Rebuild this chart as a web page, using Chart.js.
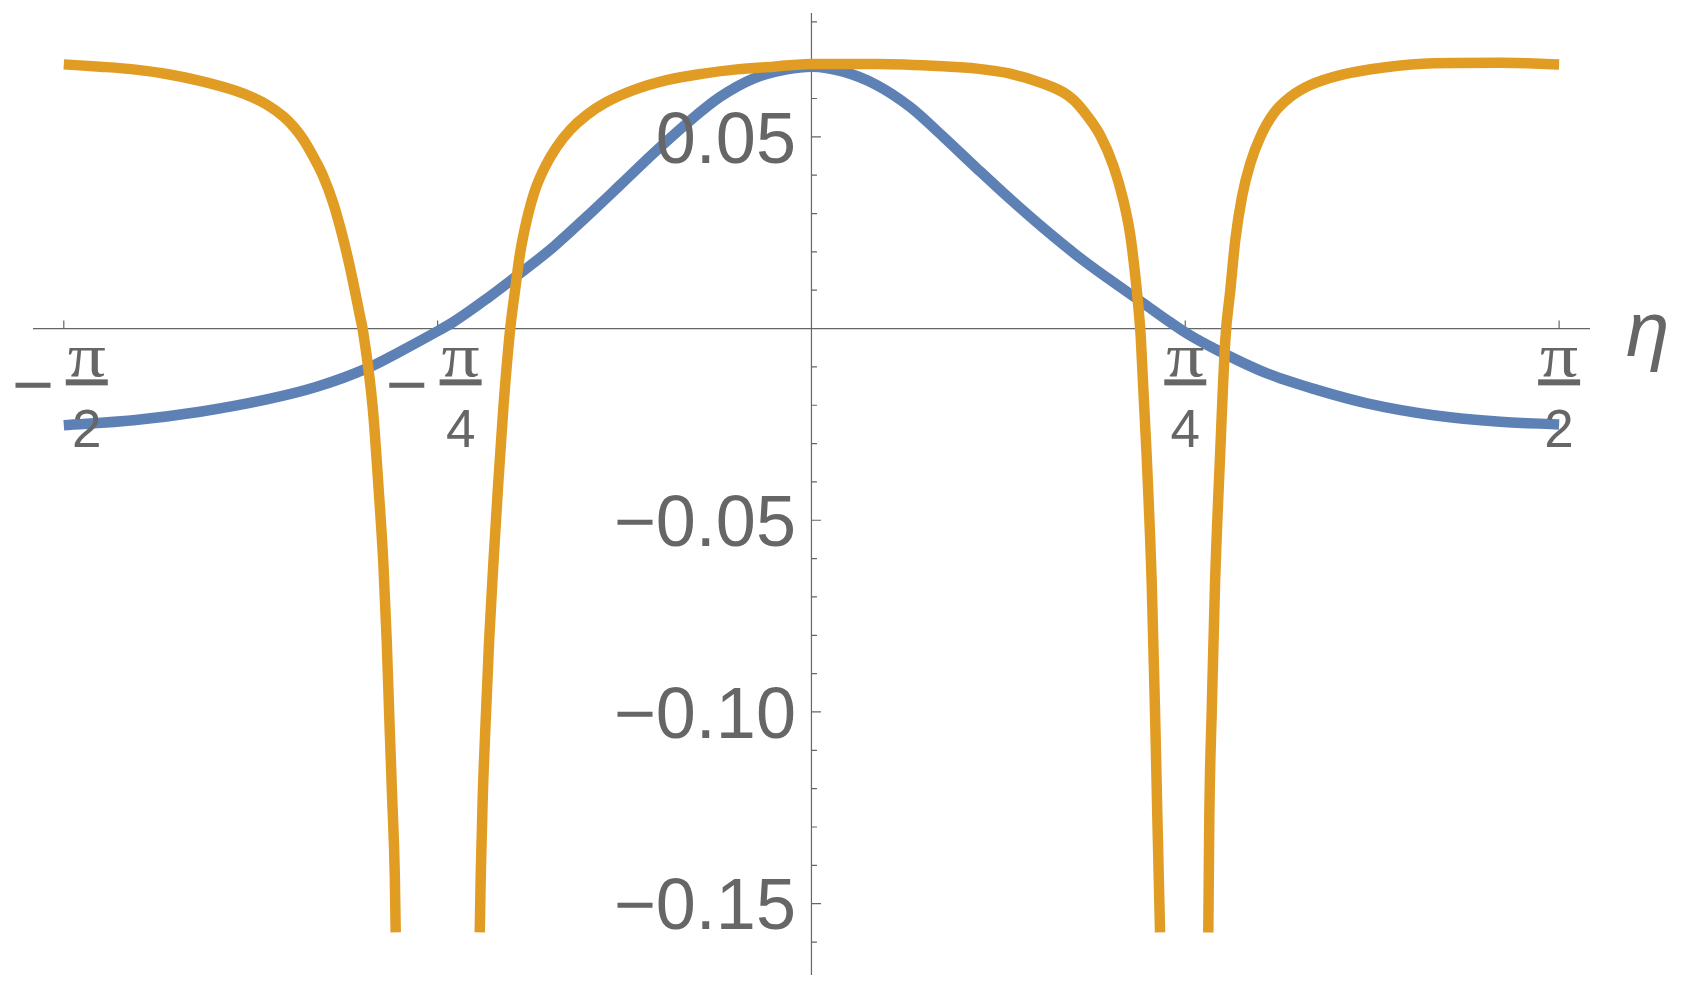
<!DOCTYPE html>
<html>
<head>
<meta charset="utf-8">
<script src="https://cdn.jsdelivr.net/npm/chart.js@4.4.1/dist/chart.umd.min.js"></script>
<style>
  html, body { margin: 0; padding: 0; background: #fff; }
  canvas { display: block; }
</style>
</head>
<body>
<canvas id="plot" width="1687" height="993"></canvas>
<script>
// blue curve
const blueEta = [-1.5708, -1.4246, -1.2845, -1.1443, -1.0393, -0.9342, -0.8643, -0.7943, -0.7523, -0.6821,
  -0.6122, -0.5422, -0.4721, -0.4021, -0.3321, -0.2620, -0.1920, -0.1221, -0.0519, 0.0,
  0.0670, 0.1372, 0.2071, 0.2771, 0.3473, 0.4172, 0.4872, 0.5573, 0.6273, 0.6973,
  0.7471, 0.7891, 0.8521, 0.9571, 1.0622, 1.1672, 1.3074, 1.4473, 1.5708];
const blueVal = [-0.0252, -0.0239, -0.0217, -0.0185, -0.0152, -0.0104, -0.0060, -0.0013, 0.0017, 0.0078,
  0.0144, 0.0213, 0.0292, 0.0374, 0.0457, 0.0535, 0.0604, 0.0652, 0.0676, 0.0683,
  0.0670, 0.0635, 0.0578, 0.0500, 0.0418, 0.0338, 0.0262, 0.0191, 0.0127, 0.0066,
  0.0022, -0.0013, -0.0056, -0.0117, -0.0160, -0.0195, -0.0226, -0.0243, -0.0250];

// orange curve; null where it drops out of the plot range
const orangeEta = [-1.5708, -1.4945, -1.4246, -1.3544, -1.2845, -1.2145, -1.1725, -1.1443, -1.1094, -1.0884,
  -1.0674, -1.0464, -1.0254, -1.0044, -0.9903, -0.9763, -0.9624, -0.9483, -0.9425, -0.9217,
  -0.9098, -0.8994, -0.8923, -0.8868, -0.8810, -0.8754, -0.8735,
  -0.7850,
  -0.6969, -0.6948, -0.6906, -0.6843, -0.6773, -0.6683, -0.6584, -0.6473, -0.6332, -0.6227,
  -0.6122, -0.5981, -0.5807, -0.5597, -0.5351, -0.5071, -0.4721, -0.4300, -0.3742, -0.3040,
  -0.2271, -0.1569, -0.0800, 0.0, 0.1372, 0.2771, 0.3473, 0.4172, 0.4872, 0.5292,
  0.5500, 0.5712, 0.6063, 0.6342, 0.6552, 0.6693, 0.6798, 0.6868, 0.6918, 0.7044,
  0.7149, 0.7218, 0.7267, 0.7324,
  0.7830,
  0.8338, 0.8359, 0.8410, 0.8479, 0.8584, 0.8695, 0.8800, 0.8905, 0.9046, 0.9221,
  0.9431, 0.9712, 1.0061, 1.0481, 1.1111, 1.2023, 1.3074, 1.4473, 1.5708];
const orangeVal = [0.0689, 0.0683, 0.0676, 0.0664, 0.0646, 0.0622, 0.0602, 0.0584, 0.0553, 0.0527,
  0.0493, 0.0448, 0.0396, 0.0326, 0.0265, 0.0196, 0.0118, 0.0031, -0.0004, -0.0207,
  -0.0410, -0.0613, -0.0816, -0.1019, -0.1221, -0.1424, -0.1575,
  null,
  -0.1575, -0.1424, -0.1221, -0.1019, -0.0816, -0.0613, -0.0410, -0.0207, -0.0004, 0.0100,
  0.0196, 0.0283, 0.0361, 0.0422, 0.0474, 0.0518, 0.0557, 0.0591, 0.0622, 0.0648,
  0.0665, 0.0676, 0.0683, 0.0690, 0.0690, 0.0684, 0.0678, 0.0665, 0.0639, 0.0616,
  0.0597, 0.0568, 0.0505, 0.0425, 0.0335, 0.0248, 0.0144, 0.0057, -0.0021, -0.0335,
  -0.0665, -0.0996, -0.1272, -0.1575,
  null,
  -0.1575, -0.1272, -0.0996, -0.0665, -0.0335, -0.0030, 0.0100, 0.0231, 0.0344, 0.0431,
  0.0500, 0.0561, 0.0604, 0.0635, 0.0661, 0.0681, 0.0692, 0.0693, 0.0689];

const xTicks = [-Math.PI / 2, -Math.PI / 4, Math.PI / 4, Math.PI / 2];
const xTickSign = ['−', '−', '', ''];
const xTickNum = ['π', 'π', 'π', 'π'];
const xTickDen = ['2', '4', '4', '2'];
const yTicks = [-0.15, -0.10, -0.05, 0.05];
const yTickLabels = ['−0.15', '−0.10', '−0.05', '0.05'];
const yMinorTicks = [-0.16, -0.14, -0.13, -0.12, -0.11, -0.09, -0.08, -0.07, -0.06, -0.04,
  -0.03, -0.02, -0.01, 0.01, 0.02, 0.03, 0.04, 0.06, 0.07, 0.08];
const axisLabel = 'η';

const xRange = [-1.6355, 1.6357];
const yRange = [-0.1686, 0.0823];

const blue = '#5E81B5';
const orange = '#E19C24';
const grey = '#666666';

// draws Mathematica-like axes through the origin
const axesPlugin = {
  id: 'originAxes',
  beforeDatasetsDraw(chart) {
    const { ctx, chartArea: a } = chart;
    const sx = chart.scales.x, sy = chart.scales.y;
    const x0 = sx.getPixelForValue(0), y0 = sy.getPixelForValue(0);
    ctx.save();
    ctx.strokeStyle = grey;
    ctx.lineWidth = 1.2;
    ctx.beginPath();
    ctx.moveTo(a.left, y0); ctx.lineTo(a.right, y0);
    ctx.moveTo(x0, a.top); ctx.lineTo(x0, a.bottom);
    xTicks.forEach(v => {
      const px = sx.getPixelForValue(v);
      ctx.moveTo(px, y0); ctx.lineTo(px, y0 - 8);
    });
    yTicks.forEach(v => {
      const py = sy.getPixelForValue(v);
      ctx.moveTo(x0, py); ctx.lineTo(x0 + 9.5, py);
    });
    yMinorTicks.forEach(v => {
      const py = sy.getPixelForValue(v);
      ctx.moveTo(x0, py); ctx.lineTo(x0 + 5.5, py);
    });
    ctx.stroke();
    ctx.restore();
  },
  afterDatasetsDraw(chart) {
    const { ctx, chartArea: a } = chart;
    const sx = chart.scales.x, sy = chart.scales.y;
    const x0 = sx.getPixelForValue(0), y0 = sy.getPixelForValue(0);
    ctx.save();
    ctx.fillStyle = grey;
    ctx.textBaseline = 'alphabetic';

    // y tick labels
    ctx.font = '72px "Liberation Sans"';
    ctx.textAlign = 'right';
    yTicks.forEach((v, i) => {
      ctx.fillText(yTickLabels[i], x0 - 15.5, sy.getPixelForValue(v) + 25.8);
    });

    // x tick labels as fractions
    ctx.textAlign = 'center';
    xTicks.forEach((v, i) => {
      const px = sx.getPixelForValue(v);
      const cx = xTickSign[i] ? px + 23 : px;
      if (xTickSign[i]) {
        ctx.font = '72px "Liberation Sans"';
        ctx.fillText(xTickSign[i], px - 31, y0 + 80.8);
      }
      ctx.save();
      ctx.translate(cx, y0 + 47.5);
      ctx.scale(1.22, 1);
      ctx.font = '62px "Liberation Serif"';
      ctx.fillText(xTickNum[i], 0, 0);
      ctx.restore();
      ctx.fillRect(cx - 21, y0 + 50.8, 42, 6);
      ctx.font = '53px "Liberation Sans"';
      ctx.fillText(xTickDen[i], cx, y0 + 118.5);
    });

    // axis label
    ctx.font = 'italic 78px "Liberation Sans"';
    ctx.textAlign = 'left';
    ctx.fillText(axisLabel, a.right + 36, y0 + 27.5);
    ctx.restore();
  }
};

function pairs(xs, ys) {
  return xs.map((x, i) => ({ x: x, y: ys[i] }));
}

new Chart(document.getElementById('plot'), {
  type: 'line',
  data: {
    datasets: [
      {
        label: 'orange',
        data: pairs(orangeEta, orangeVal),
        borderColor: orange,
        borderWidth: 10.5,
        pointRadius: 0,
        cubicInterpolationMode: 'monotone',
        spanGaps: false,
        fill: false,
        order: 1
      },
      {
        label: 'blue',
        data: pairs(blueEta, blueVal),
        borderColor: blue,
        borderWidth: 10.5,
        pointRadius: 0,
        cubicInterpolationMode: 'monotone',
        fill: false,
        order: 2
      }
    ]
  },
  options: {
    responsive: false,
    animation: false,
    devicePixelRatio: 1,
    events: [],
    layout: { padding: { left: 33, right: 97, top: 13, bottom: 18 } },
    plugins: { legend: { display: false }, tooltip: { enabled: false } },
    scales: {
      x: { type: 'linear', min: xRange[0], max: xRange[1], display: false },
      y: { type: 'linear', min: yRange[0], max: yRange[1], display: false }
    }
  },
  plugins: [axesPlugin]
});
</script>
</body>
</html>
